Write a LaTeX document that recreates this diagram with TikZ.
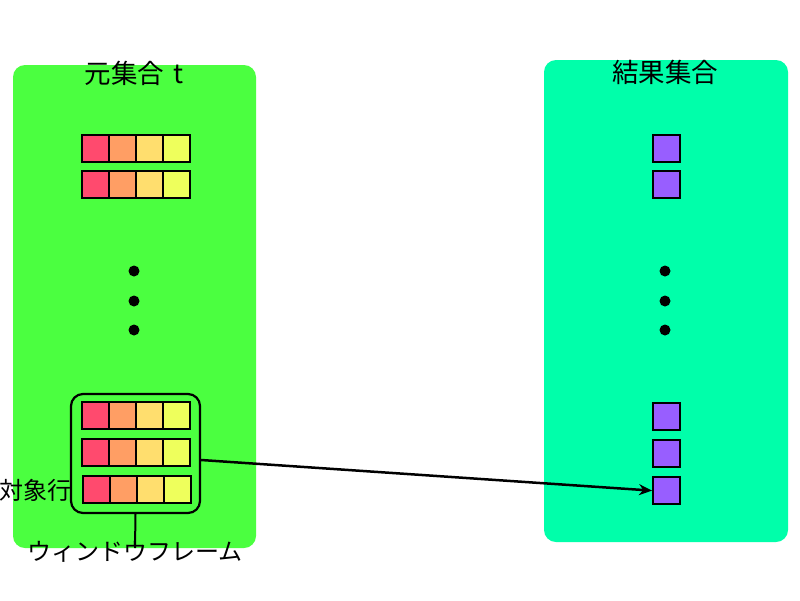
\documentclass[tikz,border=0pt]{standalone}
\usepackage{fontspec}
\setmainfont{Noto Sans CJK JP}
\usetikzlibrary{arrows.meta}
\definecolor{panelL}{HTML}{4BFF40}
\definecolor{panelR}{HTML}{00FFAA}
\definecolor{cA}{HTML}{FF4A6E}
\definecolor{cB}{HTML}{FF9E64}
\definecolor{cC}{HTML}{FFDE6E}
\definecolor{cD}{HTML}{EEFF5C}
\definecolor{cP}{HTML}{985EFF}
\tikzset{
  cell/.style={draw=black, line width=2.2pt, minimum width=27pt, minimum height=27pt, inner sep=0pt, anchor=north west},
  dot/.style={circle, fill=black, minimum size=11pt, inner sep=0pt},
  title/.style={font=\fontsize{26.5}{30}\selectfont, inner sep=0pt},
  lbl/.style={font=\fontsize{24}{28}\selectfont, inner sep=0pt},
}
\begin{document}
\begin{tikzpicture}[x=1pt,y=-1pt]
\useasboundingbox (0,0) rectangle (800,600);
\fill[panelL, rounded corners=12pt] (13,65) rectangle (256,548);
\fill[panelR, rounded corners=12pt] (544,60) rectangle (788,542);
\node[title] (tl) at (134,73) {元集合\hspace{0.35em}t};
\node[title] (tr) at (665,72) {結果集合};
% left rows
\foreach \r/\y/\dx in {a/134/0, b/170/0, c/401/0, d/438/0, e/475/1}{
  \node[cell, fill=cA] (\r1) at (81+\dx,\y) {};
  \node[cell, fill=cB] (\r2) at (108+\dx,\y) {};
  \node[cell, fill=cC] (\r3) at (135+\dx,\y) {};
  \node[cell, fill=cD] (\r4) at (162+\dx,\y) {};
}
\foreach \y [count=\i] in {271,301,330}{
  \node[dot] (ld\i) at (134,\y) {};
  \node[dot] (rd\i) at (665,\y) {};
}
% right cells
\foreach \r/\y in {a/134, b/170, c/402, d/439, e/476}{
  \node[cell, fill=cP] (p\r) at (652,\y) {};
}
% window frame
\node[draw=black, line width=2.2pt, rounded corners=12pt, minimum width=129pt, minimum height=119pt, inner sep=0pt] (wf) at (135.5,453.5) {};
\node[lbl] (wl) at (135,552) {ウィンドウフレーム};
\coordinate (wlt) at (135,548);
\draw[line width=2pt] (wf.south) -- (wlt);
\node[lbl, anchor=west] (tg) at (-1,490) {対象行};
\draw[line width=2.5pt, -{Stealth[length=13pt,width=11pt]}] (wf.east |- 0,460) -- (pe.west);
\end{tikzpicture}
\end{document}
